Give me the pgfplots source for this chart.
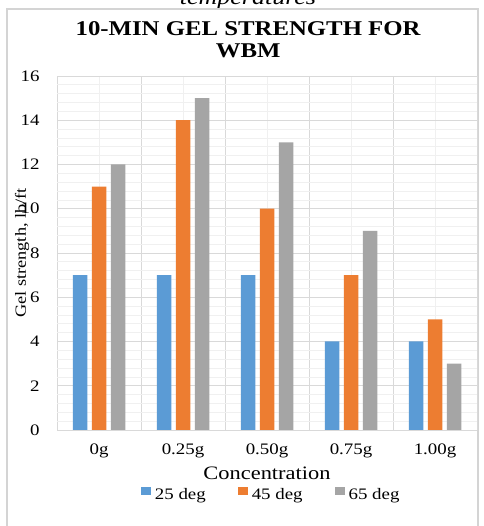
\documentclass[border=0pt]{standalone}
\usepackage{fontspec}
\setmainfont{Liberation Serif}[FakeStretch=1.18]
\usepackage{pgfplots}
\pgfplotsset{compat=1.18}
\definecolor{cblue}{HTML}{5B9BD5}
\definecolor{corange}{HTML}{ED7D31}
\definecolor{cgray}{HTML}{A5A5A5}
\definecolor{gmaj}{HTML}{D9D9D9}
\definecolor{gmin}{HTML}{F0F0F0}
\definecolor{frame}{HTML}{D4D4D4}
\begin{document}
\begin{tikzpicture}
\path[use as bounding box] (0,0) rectangle (483pt,526pt);
\fill[white] (0,0) rectangle (483pt,526pt);
\node[font=\fontsize{22}{26}\selectfont\itshape, anchor=base] at (248pt,521pt) {temperatures};
\draw[color=frame, line width=1.3pt] (7pt,-5pt) -- (7pt,517pt) -- (478pt,517pt) -- (478pt,-5pt);
\begin{axis}[
  at={(57pt,96pt)}, anchor=south west,
  scale only axis, width=420pt, height=354pt,
  xmin=-0.5, xmax=4.5, ymin=0, ymax=16,
  ybar=4.5pt, bar width=14.5pt,
  xtick={-0.5,0.5,1.5,2.5,3.5,4.5},
  xticklabels={0g,0.25g,0.50g,0.75g,1.00g},
  x tick label as interval,
  minor xtick={0,1,2,3,4},
  ytick={0,2,...,16},
  minor y tick num=4,
  grid=both,
  major grid style={draw=gmaj, line width=0.9pt},
  minor grid style={draw=gmin, line width=0.7pt},
  axis line style={draw=none},
  major tick length=0pt, minor tick length=0pt,
  tick style={draw=none},
  /pgf/number format/assume math mode=true,
  tick label style={font=\fontsize{16}{18}\selectfont},
  xticklabel style={yshift=-10pt},
  yticklabel style={xshift=-14pt},
  title={10-MIN GEL STRENGTH FOR\\WBM},
  title style={at={(axis description cs:0.455,1.0847)}, anchor=center, align=center, font=\fontsize{21}{22}\selectfont\bfseries},
  xlabel={Concentration},
  xlabel style={at={(axis description cs:0.5,-0.1215)}, anchor=center, font=\fontsize{19}{21}\selectfont},
  ylabel={Gel strength, lb/ft},
  ylabel style={at={(axis description cs:-0.083,0.5)}, anchor=center, font=\fontsize{15.5}{17}\selectfont},
  legend columns=3,
  legend style={at={(axis description cs:0.51,-0.184)}, anchor=center, draw=none, fill=none,
    font=\fontsize{16}{18}\selectfont,
    /tikz/every even column/.append style={column sep=30pt},
    /tikz/every odd column/.append style={column sep=2pt}},
  legend image code/.code={\fill[#1] (0pt,0pt) rectangle (10pt,7.7pt);},
]
\addplot[fill=cblue, draw=none] coordinates {(0,7) (1,7) (2,7) (3,4) (4,4)};
\addplot[fill=corange, draw=none] coordinates {(0,11) (1,14) (2,10) (3,7) (4,5)};
\addplot[fill=cgray, draw=none] coordinates {(0,12) (1,15) (2,13) (3,9) (4,3)};
\legend{25 deg, 45 deg, 65 deg}
\end{axis}
\end{tikzpicture}
\end{document}
